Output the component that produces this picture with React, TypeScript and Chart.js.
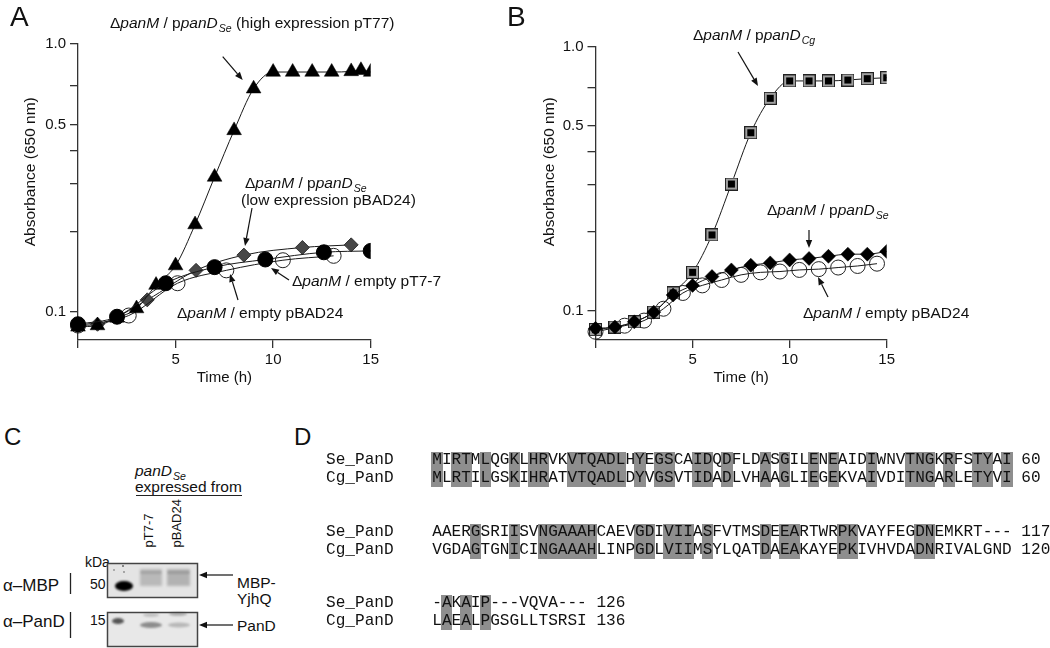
import React, { useEffect, useRef } from 'react';
import { Chart, registerables } from 'chart.js';
Chart.register(...registerables);

// ---------- shared axis values ----------
const timeTicks = [0, 5, 10, 15];
const timeTickLabels = ['', '5', '10', '15'];
const absTicks = [0.1, 0.2, 0.3, 0.4, 0.5, 0.7, 1.0];
const absTickLabels = ['0.1', '', '', '', '0.5', '', '1.0'];

// ---------- Panel A data ----------
const aHighT = [0, 1, 2, 3, 4, 5, 6, 7, 8, 9, 10, 11, 12, 13, 14, 14.5, 15];
const aHighY = [0.088, 0.089, 0.095, 0.103, 0.126, 0.149, 0.212, 0.319, 0.476, 0.681, 0.786, 0.786, 0.786, 0.786, 0.79, 0.798, 0.786];
const aEmptyT7T = [0, 2, 4.5, 7, 9.6, 12.6, 15];
const aEmptyT7Y = [0.09, 0.096, 0.128, 0.147, 0.157, 0.167, 0.169];
const aEmptyBadT = [0, 2.6, 5.1, 7.6, 10.5, 13.1];
const aEmptyBadY = [0.089, 0.097, 0.128, 0.143, 0.156, 0.162];
const aLowT = [0, 1, 3.55, 6.05, 8.5, 11.5, 14];
const aLowY = [0.089, 0.09, 0.111, 0.143, 0.163, 0.174, 0.178];

// ---------- Panel B data ----------
const bCgT = [0, 1, 2, 3, 4, 5, 6, 7, 8, 9, 10, 11, 12, 13, 14, 15];
const bCgY = [0.085, 0.087, 0.091, 0.099, 0.117, 0.14, 0.194, 0.302, 0.472, 0.637, 0.741, 0.741, 0.741, 0.747, 0.756, 0.762];
const bSeT = [0, 1, 2, 3, 4, 5, 6, 7, 8, 9, 10, 11, 12, 13, 14, 15];
const bSeY = [0.086, 0.087, 0.091, 0.099, 0.115, 0.125, 0.135, 0.143, 0.149, 0.152, 0.156, 0.158, 0.161, 0.164, 0.164, 0.168];
const bEmptyT = [0, 1.5, 2.5, 3.5, 4.5, 5.5, 6.5, 7.5, 8.5, 9.5, 10.5, 11.5, 12.5, 13.5, 14.5];
const bEmptyY = [0.0835, 0.088, 0.092, 0.102, 0.117, 0.125, 0.131, 0.137, 0.14, 0.141, 0.143, 0.144, 0.146, 0.148, 0.151];

// ---------- Panel D data ----------
const seqNames = ['Se_PanD', 'Cg_PanD'];
const alignSe = [
  'MIRTMLQGKLHRVKVTQADLHYEGSCAIDQDFLDASGILENEAIDIWNVTNGKRFSTYAI',
  'AAERGSRIISVNGAAAHCAEVGDIVIIASFVTMSDEEARTWRPKVAYFEGDNEMKRT---',
  '-AKAIP---VQVA---',
];
const alignCg = [
  'MLRTILGSKIHRATVTQADLDYVGSVTIDADLVHAAGLIEGEKVAIVDITNGARLETYVI',
  'VGDAGTGNICINGAAAHLINPGDLVIIMSYLQATDAEAKAYEPKIVHVDADNRIVALGND',
  'LAEALPGSGLLTSRSI',
];
const alignSeEnd = ['60', '117', '126'];
const alignCgEnd = ['60', '120', '136'];

const FONT = "'Liberation Sans', Arial, Helvetica, sans-serif";
const MONO = "'Liberation Mono', 'Courier New', monospace";
const INK = '#111';

Chart.defaults.font.family = FONT;

function squareMarker() {
  const c = document.createElement('canvas');
  c.width = 13;
  c.height = 13;
  const g = c.getContext('2d')!;
  g.fillStyle = '#222';
  g.fillRect(0, 0, 13, 13);
  g.fillStyle = '#a0a0a0';
  g.fillRect(1, 1, 11, 11);
  g.fillStyle = '#000';
  g.fillRect(3, 3, 7, 7);
  return c;
}

function series(t: number[], y: number[], opts: any) {
  return {
    data: t.map((x, i) => ({ x, y: y[i] })),
    borderColor: '#1a1a1a',
    borderWidth: 1,
    cubicInterpolationMode: 'monotone',
    clip: { left: 20, top: 20, right: 0, bottom: 20 },
    ...opts,
  };
}

type GP = {
  left: number; w: number; h: number; yAxisW: number; padRight: number; padTop: number;
  xAxisH: number; xTitlePad: number; yMin: number; build: () => any[];
};

function Growth(p: GP) {
  const ref = useRef<HTMLCanvasElement>(null);
  useEffect(() => {
    const chart = new Chart(ref.current!, {
      type: 'line',
      data: { datasets: p.build() },
      options: {
        animation: false,
        responsive: false,
        devicePixelRatio: 1,
        events: [],
        layout: { padding: { left: 0, right: p.padRight, top: p.padTop, bottom: 0 } },
        plugins: { legend: { display: false }, tooltip: { enabled: false } },
        scales: {
          x: {
            type: 'linear', min: 0, max: 15,
            afterBuildTicks: (s: any) => { s.ticks = timeTicks.map((v) => ({ value: v })); },
            afterFit: (s: any) => { s.height = p.xAxisH; },
            ticks: { callback: (_v: any, i: number) => timeTickLabels[i], font: { size: 15 }, color: INK, padding: 3, maxRotation: 0, autoSkip: false },
            grid: { drawOnChartArea: false, tickLength: 8, color: '#333', lineWidth: 1.3 },
            border: { color: '#333', width: 1.3 },
            title: { display: true, text: 'Time (h)', font: { size: 15 }, color: INK, padding: { top: 0, bottom: p.xTitlePad } },
          },
          y: {
            type: 'logarithmic', min: p.yMin, max: 1.0,
            afterBuildTicks: (s: any) => { s.ticks = absTicks.map((v) => ({ value: v })); },
            afterFit: (s: any) => { s.width = p.yAxisW; },
            ticks: { callback: (_v: any, i: number) => absTickLabels[i], font: { size: 15 }, color: INK, padding: 4, autoSkip: false },
            grid: { drawOnChartArea: false, tickLength: 8, color: '#333', lineWidth: 1.3 },
            border: { color: '#333', width: 1.3 },
          },
        },
      } as any,
    });
    return () => chart.destroy();
  }, []);
  return <canvas ref={ref} width={p.w} height={p.h} style={{ position: 'absolute', left: p.left, top: 0, width: p.w, height: p.h }} />;
}

function Lbl({ x, y, size = 15.5, children, style }: any) {
  return (
    <div style={{ position: 'absolute', left: x, top: y - size / 2, fontSize: size, lineHeight: `${size}px`, whiteSpace: 'nowrap', fontFamily: FONT, color: INK, ...style }}>
      {children}
    </div>
  );
}

function Rot({ cx, cy, w, size = 15.5, align = 'center', children }: any) {
  return (
    <div style={{ position: 'absolute', left: cx - w / 2, top: cy - size / 2, width: w, textAlign: align, fontSize: size, lineHeight: `${size}px`, whiteSpace: 'nowrap', fontFamily: FONT, color: INK, transform: 'rotate(-90deg)' }}>
      {children}
    </div>
  );
}

const Sub = ({ children }: any) => (
  <span style={{ fontSize: '0.68em', fontStyle: 'italic', position: 'relative', top: '0.35em', marginLeft: 1 }}>{children}</span>
);
const Strain = ({ plasmid, sub }: any) => (
  <>Δ<i>panM</i> / {plasmid ? <>p<i>panD</i><Sub>{sub}</Sub></> : null}</>
);

function Arrow({ x1, y1, x2, y2, head = 8, hw = 3.2 }: any) {
  const dx = x2 - x1, dy = y2 - y1;
  const L = Math.hypot(dx, dy);
  const ux = dx / L, uy = dy / L;
  const bx = x2 - ux * head, by = y2 - uy * head;
  const pts = `${x2},${y2} ${bx - uy * hw},${by + ux * hw} ${bx + uy * hw},${by - ux * hw}`;
  return (
    <g>
      <line x1={x1} y1={y1} x2={bx} y2={by} stroke="#111" strokeWidth={1.2} />
      <polygon points={pts} fill="#111" />
    </g>
  );
}

function Alignment() {
  const x0 = 326;
  const cw = 16.1 * 0.6;
  const rows: [number, number][] = [[460, 478], [532, 550], [603, 621]];
  const out: any[] = [];
  alignSe.forEach((se, b) => {
    const cg = alignCg[b];
    let c = 0;
    while (c < se.length) {
      if (se[c] === cg[c] && se[c] !== '-') {
        let e = c;
        while (e < se.length && se[e] === cg[e] && se[e] !== '-') e++;
        out.push(
          <div key={`h${b}-${c}`} style={{ position: 'absolute', left: x0 + (11 + c) * cw - 0.8, top: rows[b][0] - 8.5, width: (e - c) * cw + 1.6, height: rows[b][1] - rows[b][0] + 17, background: '#8e8e8e' }} />
        );
        c = e;
      } else c++;
    }
  });
  alignSe.forEach((se, b) => {
    const lines = [seqNames[0].padEnd(11) + se + ' ' + alignSeEnd[b], seqNames[1].padEnd(11) + alignCg[b] + ' ' + alignCgEnd[b]];
    lines.forEach((ln, r) => {
      out.push(
        <div key={`t${b}-${r}`} style={{ position: 'absolute', left: x0, top: rows[b][r] - 9, fontFamily: MONO, fontSize: 16.1, lineHeight: '18px', whiteSpace: 'pre', color: '#111' }}>{ln}</div>
      );
    });
  });
  return <>{out}</>;
}

export default function App() {
  const buildA = () => [
    series(aEmptyT7T, aEmptyT7Y, { pointStyle: 'circle', pointRadius: 7.5, pointBackgroundColor: '#000', pointBorderColor: '#000', pointBorderWidth: 1 }),
    series(aHighT, aHighY, { pointStyle: 'triangle', pointRadius: 8.5, pointBackgroundColor: '#000', pointBorderColor: '#000', pointBorderWidth: 0.5 }),
    series(aEmptyBadT, aEmptyBadY, { pointStyle: 'circle', pointRadius: 7.5, pointBackgroundColor: 'rgba(255,255,255,0)', pointBorderColor: '#222', pointBorderWidth: 1 }),
    series(aLowT, aLowY, { pointStyle: 'rectRot', pointRadius: 7, pointBackgroundColor: '#474747', pointBorderColor: '#333', pointBorderWidth: 1 }),
  ];
  const buildB = () => {
    const sq = squareMarker();
    return [
      series(bSeT, bSeY, { pointStyle: 'rectRot', pointRadius: 7, pointBackgroundColor: '#000', pointBorderColor: '#000', pointBorderWidth: 0.5 }),
      series(bCgT, bCgY, { pointStyle: sq, pointRadius: 7 }),
      series(bEmptyT, bEmptyY, { pointStyle: 'circle', pointRadius: 7.5, pointBackgroundColor: 'rgba(255,255,255,0)', pointBorderColor: '#222', pointBorderWidth: 1 }),
    ];
  };

  return (
    <div style={{ position: 'absolute', left: 0, top: 0, width: 1050, height: 648, background: '#fff', overflow: 'hidden', fontFamily: FONT }}>
      <Growth left={0} w={400} h={400} yAxisW={78} padRight={29.3} padTop={44} xAxisH={60} xTitlePad={13} yMin={0.0786} build={buildA} />
      <Growth left={520} w={400} h={400} yAxisW={75.5} padRight={33.3} padTop={46.5} xAxisH={60} xTitlePad={13} yMin={0.0777} build={buildB} />

      {/* panel letters */}
      <Lbl x={10} y={17} size={28}>A</Lbl>
      <Lbl x={507} y={17} size={28}>B</Lbl>
      <Lbl x={4} y={437} size={24}>C</Lbl>
      <Lbl x={294} y={437} size={24}>D</Lbl>

      {/* y axis titles */}
      <Rot cx={30} cy={172} w={200}>Absorbance (650 nm)</Rot>
      <Rot cx={548.5} cy={172} w={200}>Absorbance (650 nm)</Rot>

      {/* Panel A annotations */}
      <Lbl x={110} y={23}><Strain plasmid sub="Se" /> (high expression pT77)</Lbl>
      <Lbl x={245} y={183}><Strain plasmid sub="Se" /></Lbl>
      <Lbl x={241} y={200}>(low expression pBAD24)</Lbl>
      <Lbl x={292} y={281}><Strain />empty pT7-7</Lbl>
      <Lbl x={177} y={313}><Strain />empty pBAD24</Lbl>

      {/* Panel B annotations */}
      <Lbl x={693} y={35}><Strain plasmid sub="Cg" /></Lbl>
      <Lbl x={767} y={210}><Strain plasmid sub="Se" /></Lbl>
      <Lbl x={803} y={313}><Strain />empty pBAD24</Lbl>

      {/* Panel C texts */}
      <Lbl x={135} y={471}><i>panD</i><Sub>Se</Sub></Lbl>
      <Lbl x={135} y={487}>expressed from</Lbl>
      <Rot cx={148} cy={519} w={56} size={13} align="left">pT7-7</Rot>
      <Rot cx={176} cy={519} w={56} size={13} align="left">pBAD24</Rot>
      <Lbl x={85} y={562} size={14}>kDa</Lbl>
      <Lbl x={90} y={584} size={14}>50</Lbl>
      <Lbl x={90} y={620} size={14}>15</Lbl>
      <Lbl x={3} y={585} size={17}>α–MBP</Lbl>
      <Lbl x={3} y={621} size={17}>α–PanD</Lbl>
      <Lbl x={237} y={583}>MBP-</Lbl>
      <Lbl x={237} y={599}>YjhQ</Lbl>
      <Lbl x={237} y={626}>PanD</Lbl>

      <svg width={1050} height={648} style={{ position: 'absolute', left: 0, top: 0 }}>
        <defs>
          <filter id="b1" x="-50%" y="-50%" width="200%" height="200%"><feGaussianBlur stdDeviation="0.9" /></filter>
          <filter id="b2" x="-50%" y="-50%" width="200%" height="200%"><feGaussianBlur stdDeviation="1.8" /></filter>
        </defs>
        <Arrow x1={222.7} y1={56.7} x2={242.7} y2={80} />
        <Arrow x1={252} y1={208} x2={245} y2={246} />
        <Arrow x1={289} y1={280} x2={271} y2={268} />
        <Arrow x1={238} y1={300} x2={230} y2={274} />
        <Arrow x1={738} y1={52} x2={758} y2={86} />
        <Arrow x1={809} y1={230} x2={809} y2={248} />
        <Arrow x1={828} y1={297} x2={818} y2={277} />
        <Arrow x1={233} y1={575} x2={199} y2={575} />
        <Arrow x1={233} y1={625} x2={199} y2={625} />

        <line x1={136} y1={495.5} x2={242} y2={495.5} stroke="#222" strokeWidth={1.2} />
        <line x1={70.5} y1={573} x2={70.5} y2={594} stroke="#222" strokeWidth={1.3} />
        <line x1={70.5} y1={612} x2={70.5} y2={638} stroke="#222" strokeWidth={1.3} />

        {/* top gel */}
        <rect x={107.5} y={563.5} width={90} height={34} fill="#e4e4e4" />
        <rect x={140} y={569} width={22} height={17} fill="#b9b9b9" filter="url(#b2)" />
        <rect x={167} y={569} width={23} height={17} fill="#b2b2b2" filter="url(#b2)" />
        <rect x={141} y={571} width={20} height={3} fill="#a4a4a4" filter="url(#b1)" />
        <rect x={168} y={571} width={21} height={3} fill="#9c9c9c" filter="url(#b1)" />
        <ellipse cx={124} cy={586} rx={9} ry={5} fill="#000" filter="url(#b1)" />
        <circle cx={123} cy={566} r={1} fill="#666" />
        <circle cx={124} cy={572} r={0.9} fill="#888" />
        <circle cx={114} cy={570} r={1} fill="#999" />
        <rect x={107.5} y={563.5} width={90} height={34} fill="none" stroke="#444" strokeWidth={1.5} />

        {/* bottom gel */}
        <rect x={107.5} y={612.5} width={90} height={34} fill="#e8e8e8" />
        <ellipse cx={118} cy={621} rx={6} ry={3} fill="#555" filter="url(#b1)" />
        <ellipse cx={151} cy={615} rx={8} ry={1.8} fill="#bdbdbd" filter="url(#b1)" />
        <ellipse cx={151} cy={625} rx={11} ry={3} fill="#8c8c8c" filter="url(#b1)" />
        <ellipse cx={178} cy={614} rx={9} ry={1.8} fill="#a9a9a9" filter="url(#b1)" />
        <ellipse cx={179} cy={625} rx={11} ry={2.5} fill="#b8b8b8" filter="url(#b1)" />
        <rect x={107.5} y={612.5} width={90} height={34} fill="none" stroke="#444" strokeWidth={1.5} />
      </svg>

      <Alignment />
    </div>
  );
}
